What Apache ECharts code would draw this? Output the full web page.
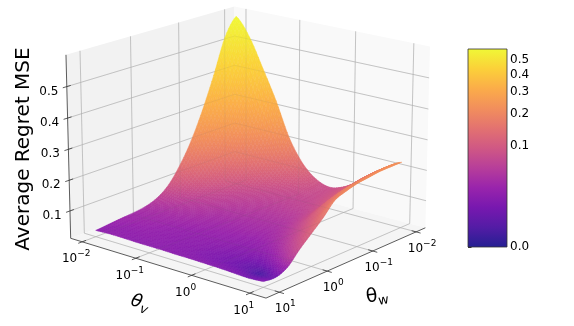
<!DOCTYPE html>
<html>
<head>
<meta charset="utf-8">
<style>html,body{margin:0;padding:0;background:#fff}#c{width:574px;height:326px}</style>
<script src="https://cdn.jsdelivr.net/npm/echarts@6/dist/echarts.min.js"></script>
</head>
<body>
<div id="c"></div>
<script>
// ---- data ----
const logThetaV = [-2,-1.75,-1.5,-1.25,-1,-0.75,-0.5,-0.25,0,0.25,0.5,0.75,1];
const logThetaW = [-2,-1.75,-1.5,-1.25,-1,-0.75,-0.5,-0.25,0,0.25,0.5,0.75,1];
// rows: theta_v, columns: theta_w
const regret = [
[.585,.525,.410,.305,.215,.145,.092,.062,.048,.042,.039,.035,.031],
[.525,.415,.310,.225,.160,.110,.077,.056,.046,.041,.038,.034,.033],
[.430,.305,.215,.150,.108,.081,.063,.052,.044,.040,.037,.034,.033],
[.330,.220,.150,.102,.079,.066,.056,.048,.042,.038,.035,.034,.032],
[.215,.150,.106,.081,.068,.058,.050,.044,.040,.036,.034,.033,.032],
[.140,.110,.086,.072,.062,.055,.048,.042,.038,.035,.033,.032,.032],
[.098,.090,.078,.068,.059,.052,.046,.041,.037,.034,.032,.031,.031],
[.083,.080,.075,.069,.060,.052,.046,.041,.036,.033,.030,.029,.031],
[.097,.092,.085,.076,.065,.055,.047,.041,.035,.031,.028,.027,.030],
[.127,.123,.113,.100,.088,.075,.060,.048,.038,.031,.0265,.025,.029],
[.165,.163,.155,.145,.135,.115,.090,.068,.050,.034,.0245,.023,.027],
[.200,.198,.190,.185,.180,.160,.135,.105,.078,.050,.028,.0205,.025],
[.2265,.226,.225,.220,.215,.205,.190,.150,.115,.080,.040,.024,.028]
];
const zTicks = [0.1,0.2,0.3,0.4,0.5];
const thetaTickExp = [-2,-1,0,1];
const cbarTicks = [0.0,0.1,0.2,0.3,0.4,0.5];
const zLabel = 'Average Regret MSE';

// ---- view and scales ----
const logRange = [-2.22,1.27], zRange = [0.01,0.6];
const elev = 17.5*Math.PI/180, azim = 40*Math.PI/180, camDist = 10, boxW = 1.143, boxH = 0.857;
const focal = 2231, cx = 249.2, cy = 143;
const plasma = ['#0d0887','#41049d','#6a00a8','#8f0da4','#b12a90','#cc4778','#e16462','#f2844b','#fca636','#fcce25','#f0f921'];
const cMin = 0.02, cMax = 0.587, gamma = 0.345, surfaceAlpha = 0.9, paneGrey = 240;
const FONT = '"DejaVu Sans"';

const nLog = v => (v-logRange[0])/(logRange[1]-logRange[0]);
const nZ = z => (z-zRange[0])/(zRange[1]-zRange[0]);
function project(nx,ny,nz){
  const X=(nx-.5)*boxW, Y=(ny-.5)*boxW, Z=(nz-.5)*boxH;
  const se=Math.sin(elev), ce=Math.cos(elev), sa=Math.sin(azim), ca=Math.cos(azim);
  const r=-X*sa+Y*ca, s=-X*se*ca-Y*se*sa+Z*ce, d=camDist-(X*ce*ca+Y*ce*sa+Z*se);
  return {p:[cx+focal*r/d, cy-focal*s/d], d};
}
const P = (nx,ny,nz)=>project(nx,ny,nz).p;
const norm = z => Math.pow(Math.max(z-cMin,0)/(cMax-cMin),gamma);
const hex = h => [1,3,5].map(i=>parseInt(h.substr(i,2),16));
function cmap(t){
  t=Math.min(1,Math.max(0,t))*(plasma.length-1);
  const i=Math.min(plasma.length-2,Math.floor(t)), f=t-i, a=hex(plasma[i]), b=hex(plasma[i+1]);
  return [0,1,2].map(k=>a[k]+(b[k]-a[k])*f);
}
const blended = t => { const c=cmap(t).map(v=>Math.round(v*surfaceAlpha+paneGrey*(1-surfaceAlpha))); return `rgb(${c[0]},${c[1]},${c[2]})`; };

// smooth drawing of the read table
function cr(a,b,c,d,t){return .5*(2*b+(c-a)*t+(2*a-5*b+4*c-d)*t*t+(3*b-a-3*c+d)*t*t*t);}
function sample(fi,fj){
  const n=regret.length-1,m=regret[0].length-1;
  const i=Math.min(n-1,Math.floor(fi)),j=Math.min(m-1,Math.floor(fj)),u=fi-i,w=fj-j;
  const col=[];
  for(let a=-1;a<=2;a++){
    const row=regret[Math.max(0,Math.min(n,i+a))];
    col.push(cr(row[Math.max(0,j-1)],row[j],row[j+1],row[Math.min(m,j+2)],w));
  }
  return cr(col[0],col[1],col[2],col[3],u);
}
function axisAt(arr,f){const i=Math.min(arr.length-2,Math.floor(f));return arr[i]+(arr[i+1]-arr[i])*(f-i);}

// ---- surface quads ----
const SUB=6, quads=[];
(function(){
  const nv=(logThetaV.length-1)*SUB, nw=(logThetaW.length-1)*SUB, pts=[];
  for(let a=0;a<=nv;a++){const row=[];for(let b=0;b<=nw;b++){
    const z=sample(a/SUB,b/SUB);
    const q=project(nLog(axisAt(logThetaW,b/SUB)),nLog(axisAt(logThetaV,a/SUB)),nZ(z));
    row.push({p:q.p,d:q.d,z});
  } pts.push(row);}
  for(let a=0;a<nv;a++)for(let b=0;b<nw;b++){
    const c=[pts[a][b],pts[a][b+1],pts[a+1][b+1],pts[a+1][b]];
    quads.push({pts:c.map(o=>o.p),d:(c[0].d+c[1].d+c[2].d+c[3].d)/4,z:(c[0].z+c[1].z+c[2].z+c[3].z)/4});
  }
  quads.sort((x,y)=>y.d-x.d);
})();

// ---- panes, grid ----
const line=(a,b,stroke,lw,opacity)=>({type:'line',shape:{x1:a[0],y1:a[1],x2:b[0],y2:b[1]},style:{stroke,lineWidth:lw,opacity:opacity==null?1:opacity},silent:true});
const poly=(pts,fill)=>({type:'polygon',shape:{points:pts},style:{fill},silent:true});
function gridLines(stroke,lw,opacity){
  const out=[];
  thetaTickExp.forEach(e=>{
    const n=nLog(e);
    out.push(line(P(n,1,0),P(n,0,0),stroke,lw,opacity),line(P(n,0,0),P(n,0,1),stroke,lw,opacity));
    out.push(line(P(1,n,0),P(0,n,0),stroke,lw,opacity),line(P(0,n,0),P(0,n,1),stroke,lw,opacity));
  });
  zTicks.forEach(t=>{
    const n=nZ(t);
    out.push(line(P(1,0,n),P(0,0,n),stroke,lw,opacity),line(P(0,0,n),P(0,1,n),stroke,lw,opacity));
  });
  return out;
}
function backdrop(){
  return [
    poly([P(1,0,0),P(0,0,0),P(0,0,1),P(1,0,1)],'#f2f2f2'),
    poly([P(0,0,0),P(0,1,0),P(0,1,1),P(0,0,1)],'#f9f9f9'),
    poly([P(1,0,0),P(1,1,0),P(0,1,0),P(0,0,0)],'#f5f5f5')
  ].concat(gridLines('#c0c0c0',0.8));
}
function surface(){
  return quads.map(q=>{const col=blended(norm(q.z));return {type:'polygon',shape:{points:q.pts},style:{fill:col,stroke:col,lineWidth:0.5},silent:true};});
}
const txt=(x,y,text,extra,rotation)=>({type:'text',x,y,rotation:rotation||0,silent:true,
  style:Object.assign({text,fontFamily:FONT,fontSize:12,fill:'#000',align:'center',verticalAlign:'middle'},extra||{})});
const expText=e=>`{b|10}{s|${e<0?'\u2212':''}${Math.abs(e)}}`;
const expRich={rich:{b:{fontSize:12,fontFamily:FONT,fill:'#000',verticalAlign:'bottom',lineHeight:16},s:{fontSize:9,fontFamily:FONT,fill:'#000',verticalAlign:'top',lineHeight:16}}};
function axes(){
  const dark='#333', tw=0.022, out=[line(P(1,0,0),P(1,0,1),dark,0.8),line(P(1,0,0),P(1,1,0),dark,0.8),line(P(1,1,0),P(0,1,0),dark,0.8)];
  zTicks.forEach(t=>{
    const n=nZ(t), a=P(1,0,n);
    out.push(line(P(1-tw,0,n),P(1+tw,0,n),dark,0.8));
    out.push(txt(a[0]-18,a[1]+5,t.toFixed(1)));
  });
  thetaTickExp.forEach(e=>{
    const n=nLog(e), a=P(1,n,0), b=P(n,1,0);
    out.push(line(P(1-tw,n,0),P(1+tw,n,0),dark,0.8));
    out.push(line(P(n,1-tw,0),P(n,1+tw,0),dark,0.8));
    out.push(txt(a[0]-6,a[1]+15.5,expText(e),expRich));
    out.push(txt(b[0]+6,b[1]+15,expText(e),expRich));
  });
  out.push(txt(24,149,zLabel,{fontSize:20},Math.PI/2));
  out.push(txt(140,303,'{t|\u03b8}{v|v}',{rich:{t:{fontSize:18,fontFamily:FONT,fontStyle:'italic',fill:'#000',verticalAlign:'middle',lineHeight:24},v:{fontSize:13,fontFamily:FONT,fontStyle:'italic',fill:'#000',verticalAlign:'bottom',lineHeight:22}}},-0.3));
  out.push(txt(377,296,'{t|\u03b8}{v|w}',{rich:{t:{fontSize:19,fontFamily:FONT,fill:'#000',verticalAlign:'middle',lineHeight:24},v:{fontSize:13,fontFamily:FONT,fill:'#000',verticalAlign:'bottom',lineHeight:22}}},0.14));
  return out;
}
const groupSeries=(z,fn)=>({type:'custom',coordinateSystem:'none',z,silent:true,animation:false,data:[0],renderItem:()=>({type:'group',children:fn()})});

const chart=echarts.init(document.getElementById('c'),null,{renderer:'canvas',width:574,height:326});
chart.setOption({
  animation:false,
  backgroundColor:'#fff',
  grid:{left:468,top:49,width:39,height:198,show:false},
  xAxis:{type:'value',min:0,max:1,show:false},
  yAxis:{type:'value',min:0,max:1,position:'right',splitLine:{show:false},axisLine:{show:false},
    axisTick:{show:true,length:3.5,lineStyle:{color:'#000',width:0.8},customValues:cbarTicks.map(norm)},
    axisLabel:{show:true,margin:3,color:'#000',fontSize:12,fontFamily:FONT,customValues:cbarTicks.map(norm),
      formatter:v=>{const t=cbarTicks.find(c=>Math.abs(norm(c)-v)<1e-6);return t==null?'':t.toFixed(1);}}},
  series:[
    groupSeries(1,backdrop),
    groupSeries(2,surface),
    groupSeries(3,()=>gridLines('#606060',0.8,0.1)),
    groupSeries(4,axes),
    {type:'custom',coordinateSystem:'cartesian2d',z:5,silent:true,animation:false,data:[[0,1]],
      renderItem:(params,api)=>{
        const a=api.coord([0,1]), b=api.coord([1,0]);
        const stops=plasma.map((h,i)=>{const t=i/(plasma.length-1);return {offset:1-t,color:blended(t)};}).reverse();
        return {type:'rect',shape:{x:a[0],y:a[1],width:b[0]-a[0],height:b[1]-a[1]},
          style:{fill:new echarts.graphic.LinearGradient(0,0,0,1,stops),stroke:'#333',lineWidth:0.8}};
      }}
  ]
});
</script>
</body>
</html>
